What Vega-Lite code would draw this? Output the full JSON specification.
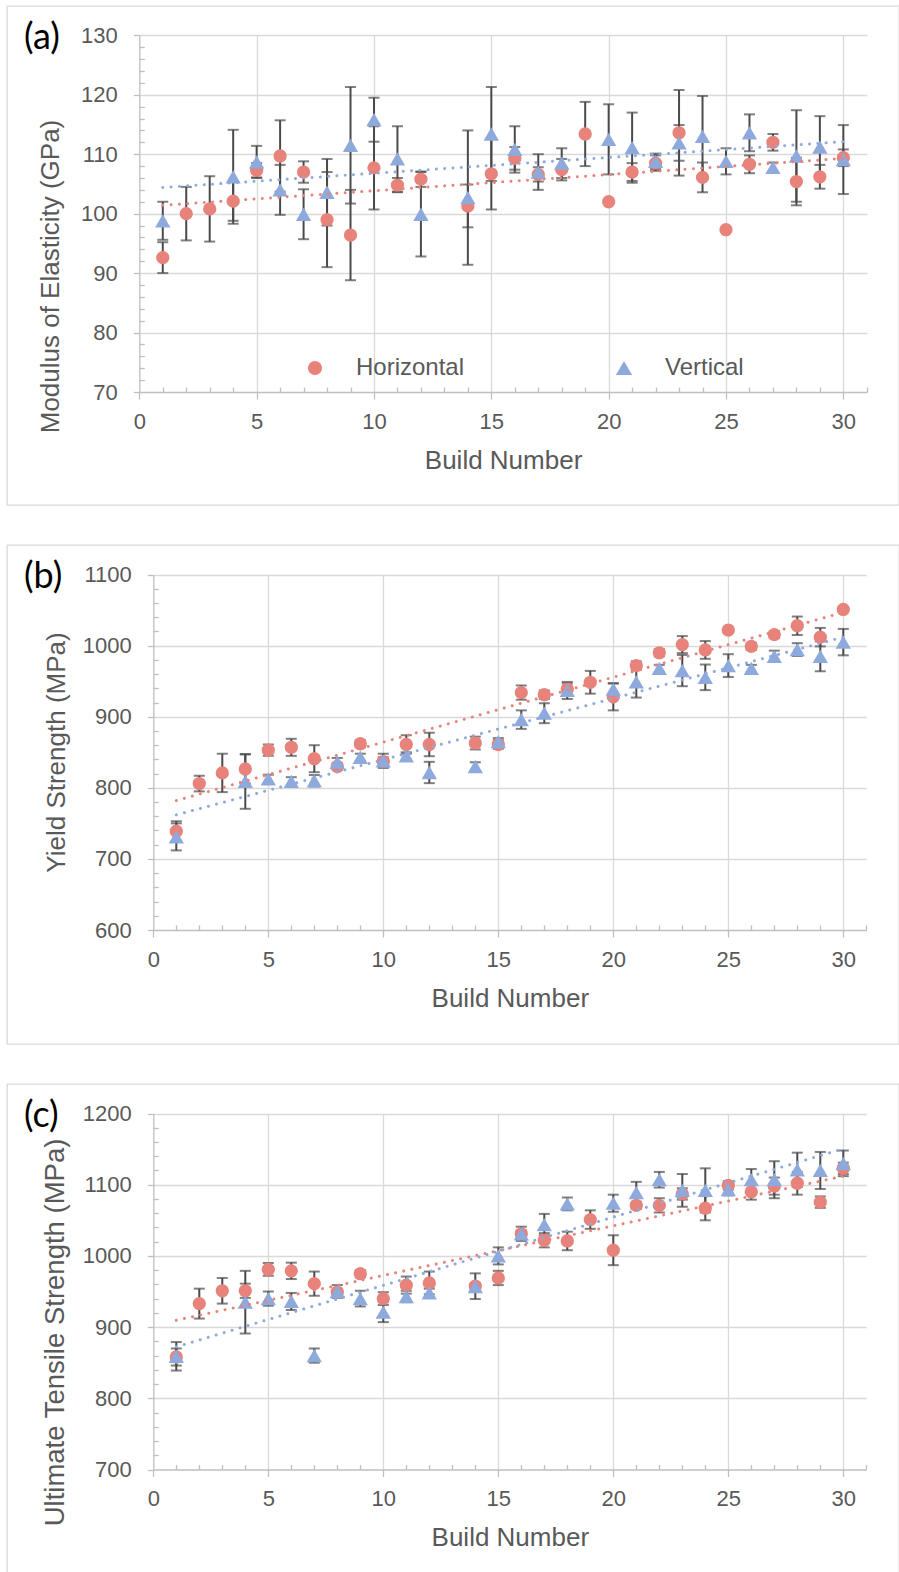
{
  "$schema": "https://vega.github.io/schema/vega-lite/v6.json",
  "background": "white",
  "padding": {"left": 6, "top": 5, "right": 0, "bottom": 0},
  "spacing": 38,
  "config": {
    "view": {"stroke": "#d9d9d9", "strokeWidth": 1.3},
    "font": "Liberation Sans",
    "axis": {
      "gridColor": "#d9d9d9", "gridWidth": 1.3,
      "domainColor": "#bfbfbf", "domainWidth": 1.3,
      "tickColor": "#bfbfbf", "tickWidth": 1.3, "tickCount": 100,
      "labelFont": "Liberation Sans", "labelFontSize": 22, "labelColor": "#595959",
      "labelOverlap": false, "labelFlush": false,
      "titleFont": "Liberation Sans", "titleFontSize": 26, "titleColor": "#595959", "titleFontWeight": "normal"
    },
    "legend": {
      "orient": "none", "legendX": 296, "legendY": 350, "direction": "horizontal",
      "symbolSize": 200, "labelFontSize": 24, "labelColor": "#595959", "labelFont": "Liberation Sans",
      "labelOffset": 29, "columnPadding": 147, "padding": 0, "symbolStrokeWidth": 0, "symbolOpacity": 1
    },
    "title": {"font": "Lato", "fontSize": 36, "fontWeight": "normal", "color": "#000000", "anchor": "start", "frame": "group", "baseline": "top", "offset": -32, "dx": 17, "dy": 19}
  },
  "datasets": {
    "pa": [
      {"build":1,"value":92.6,"err":2.6,"series":"Horizontal"},{"build":2,"value":100.0,"err":4.5,"series":"Horizontal"},{"build":3,"value":100.8,"err":5.5,"series":"Horizontal"},{"build":4,"value":102.1,"err":3.3,"series":"Horizontal"},{"build":5,"value":107.3,"err":1.2,"series":"Horizontal"},{"build":6,"value":109.7,"err":6.0,"series":"Horizontal"},{"build":7,"value":107.0,"err":1.8,"series":"Horizontal"},{"build":8,"value":99.0,"err":8.0,"series":"Horizontal"},{"build":9,"value":96.4,"err":7.6,"series":"Horizontal"},{"build":10,"value":107.7,"err":7.0,"series":"Horizontal"},{"build":11,"value":104.8,"err":1.2,"series":"Horizontal"},{"build":12,"value":105.8,"err":1.3,"series":"Horizontal"},{"build":14,"value":101.3,"err":3.6,"series":"Horizontal"},{"build":15,"value":106.7,"err":6.0,"series":"Horizontal"},{"build":16,"value":109.3,"err":1.9,"series":"Horizontal"},{"build":17,"value":106.6,"err":1.2,"series":"Horizontal"},{"build":18,"value":107.4,"err":1.8,"series":"Horizontal"},{"build":19,"value":113.4,"err":5.4,"series":"Horizontal"},{"build":20,"value":102.0,"err":0,"series":"Horizontal"},{"build":21,"value":107.0,"err":1.5,"series":"Horizontal"},{"build":22,"value":108.5,"err":1.3,"series":"Horizontal"},{"build":23,"value":113.6,"err":7.2,"series":"Horizontal"},{"build":24,"value":106.1,"err":2.5,"series":"Horizontal"},{"build":25,"value":97.3,"err":0,"series":"Horizontal"},{"build":26,"value":108.3,"err":1.5,"series":"Horizontal"},{"build":27,"value":112.0,"err":1.4,"series":"Horizontal"},{"build":28,"value":105.4,"err":4.0,"series":"Horizontal"},{"build":29,"value":106.2,"err":2.0,"series":"Horizontal"},{"build":30,"value":109.4,"err":1.4,"series":"Horizontal"},
      {"build":1,"value":98.8,"err":3.2,"series":"Vertical"},{"build":4,"value":106.2,"err":7.9,"series":"Vertical"},{"build":5,"value":108.7,"err":2.7,"series":"Vertical"},{"build":6,"value":104.0,"err":4.2,"series":"Vertical"},{"build":7,"value":99.9,"err":4.2,"series":"Vertical"},{"build":8,"value":103.6,"err":5.6,"series":"Vertical"},{"build":9,"value":111.5,"err":9.8,"series":"Vertical"},{"build":10,"value":115.8,"err":3.7,"series":"Vertical"},{"build":11,"value":109.2,"err":5.5,"series":"Vertical"},{"build":12,"value":99.9,"err":7.1,"series":"Vertical"},{"build":14,"value":102.7,"err":11.3,"series":"Vertical"},{"build":15,"value":113.4,"err":7.9,"series":"Vertical"},{"build":16,"value":110.8,"err":3.9,"series":"Vertical"},{"build":17,"value":107.0,"err":3.0,"series":"Vertical"},{"build":18,"value":108.5,"err":2.5,"series":"Vertical"},{"build":20,"value":112.5,"err":5.9,"series":"Vertical"},{"build":21,"value":111.1,"err":5.9,"series":"Vertical"},{"build":22,"value":108.8,"err":1.3,"series":"Vertical"},{"build":23,"value":111.9,"err":3.0,"series":"Vertical"},{"build":24,"value":113.0,"err":6.8,"series":"Vertical"},{"build":25,"value":108.8,"err":2.2,"series":"Vertical"},{"build":26,"value":113.6,"err":3.1,"series":"Vertical"},{"build":27,"value":107.8,"err":0.8,"series":"Vertical"},{"build":28,"value":109.7,"err":7.7,"series":"Vertical"},{"build":29,"value":111.2,"err":5.2,"series":"Vertical"},{"build":30,"value":109.1,"err":5.8,"series":"Vertical"}
    ],
    "ta": [
      {"build":1,"value":101.4,"series":"Horizontal"},{"build":30,"value":109.3,"series":"Horizontal"},
      {"build":1,"value":104.4,"series":"Vertical"},{"build":30,"value":112.1,"series":"Vertical"}
    ],
    "pb": [
      {"build":1,"value":739,"err":14,"series":"Horizontal"},{"build":2,"value":806,"err":11,"series":"Horizontal"},{"build":3,"value":821,"err":27,"series":"Horizontal"},{"build":4,"value":826.5,"err":20.5,"series":"Horizontal"},{"build":5,"value":853,"err":8,"series":"Horizontal"},{"build":6,"value":857,"err":12,"series":"Horizontal"},{"build":7,"value":841,"err":19,"series":"Horizontal"},{"build":8,"value":830,"err":5,"series":"Horizontal"},{"build":9,"value":862,"err":5,"series":"Horizontal"},{"build":10,"value":837,"err":6,"series":"Horizontal"},{"build":11,"value":861,"err":13,"series":"Horizontal"},{"build":12,"value":861,"err":16.5,"series":"Horizontal"},{"build":14,"value":863,"err":9,"series":"Horizontal"},{"build":15,"value":861,"err":6,"series":"Horizontal"},{"build":16,"value":934,"err":10,"series":"Horizontal"},{"build":17,"value":931,"err":6,"series":"Horizontal"},{"build":18,"value":939,"err":8,"series":"Horizontal"},{"build":19,"value":948.5,"err":16,"series":"Horizontal"},{"build":20,"value":928,"err":19,"series":"Horizontal"},{"build":21,"value":972,"err":6,"series":"Horizontal"},{"build":22,"value":990,"err":5,"series":"Horizontal"},{"build":23,"value":1001.5,"err":12,"series":"Horizontal"},{"build":24,"value":994,"err":12.5,"series":"Horizontal"},{"build":25,"value":1022,"err":0,"series":"Horizontal"},{"build":26,"value":999,"err":5,"series":"Horizontal"},{"build":27,"value":1015.6,"err":5,"series":"Horizontal"},{"build":28,"value":1028,"err":13,"series":"Horizontal"},{"build":29,"value":1012,"err":13,"series":"Horizontal"},{"build":30,"value":1051,"err":0,"series":"Horizontal"},
      {"build":1,"value":731,"err":19,"series":"Vertical"},{"build":4,"value":809,"err":38.5,"series":"Vertical"},{"build":5,"value":812.5,"err":6,"series":"Vertical"},{"build":6,"value":809,"err":6,"series":"Vertical"},{"build":7,"value":810,"err":8,"series":"Vertical"},{"build":8,"value":836,"err":6,"series":"Vertical"},{"build":9,"value":843,"err":5,"series":"Vertical"},{"build":10,"value":838,"err":10,"series":"Vertical"},{"build":11,"value":845,"err":5,"series":"Vertical"},{"build":12,"value":821.6,"err":15,"series":"Vertical"},{"build":14,"value":830,"err":6,"series":"Vertical"},{"build":15,"value":865,"err":5,"series":"Vertical"},{"build":16,"value":896,"err":13,"series":"Vertical"},{"build":17,"value":905,"err":14,"series":"Vertical"},{"build":18,"value":937,"err":12,"series":"Vertical"},{"build":20,"value":939,"err":8,"series":"Vertical"},{"build":21,"value":949,"err":22,"series":"Vertical"},{"build":22,"value":968,"err":5,"series":"Vertical"},{"build":23,"value":965,"err":22,"series":"Vertical"},{"build":24,"value":955.5,"err":18,"series":"Vertical"},{"build":25,"value":972,"err":16,"series":"Vertical"},{"build":26,"value":968,"err":5,"series":"Vertical"},{"build":27,"value":985,"err":8,"series":"Vertical"},{"build":28,"value":994.5,"err":9,"series":"Vertical"},{"build":29,"value":985,"err":21,"series":"Vertical"},{"build":30,"value":1005,"err":18.6,"series":"Vertical"}
    ],
    "tb": [
      {"build":1,"value":782,"series":"Horizontal"},{"build":30,"value":1047,"series":"Horizontal"},
      {"build":1,"value":762,"series":"Vertical"},{"build":30,"value":1012,"series":"Vertical"}
    ],
    "pc": [
      {"build":1,"value":858,"err":12,"series":"Horizontal"},{"build":2,"value":933,"err":21,"series":"Horizontal"},{"build":3,"value":951,"err":18,"series":"Horizontal"},{"build":4,"value":951,"err":10,"series":"Horizontal"},{"build":5,"value":981,"err":9,"series":"Horizontal"},{"build":6,"value":979,"err":11.5,"series":"Horizontal"},{"build":7,"value":961,"err":17,"series":"Horizontal"},{"build":8,"value":949,"err":5,"series":"Horizontal"},{"build":9,"value":975,"err":5,"series":"Horizontal"},{"build":10,"value":940,"err":9,"series":"Horizontal"},{"build":11,"value":959,"err":12,"series":"Horizontal"},{"build":12,"value":962,"err":16,"series":"Horizontal"},{"build":14,"value":957.5,"err":18,"series":"Horizontal"},{"build":15,"value":969,"err":10,"series":"Horizontal"},{"build":16,"value":1031,"err":5,"series":"Horizontal"},{"build":17,"value":1022,"err":10,"series":"Horizontal"},{"build":18,"value":1021,"err":13,"series":"Horizontal"},{"build":19,"value":1051,"err":13,"series":"Horizontal"},{"build":20,"value":1008,"err":21,"series":"Horizontal"},{"build":21,"value":1071,"err":5,"series":"Horizontal"},{"build":22,"value":1071,"err":10,"series":"Horizontal"},{"build":23,"value":1087,"err":8,"series":"Horizontal"},{"build":24,"value":1067,"err":17,"series":"Horizontal"},{"build":25,"value":1099,"err":6,"series":"Horizontal"},{"build":26,"value":1090,"err":11,"series":"Horizontal"},{"build":27,"value":1098,"err":12,"series":"Horizontal"},{"build":28,"value":1102,"err":16,"series":"Horizontal"},{"build":29,"value":1075.5,"err":8,"series":"Horizontal"},{"build":30,"value":1123,"err":8,"series":"Horizontal"},
      {"build":1,"value":859,"err":20,"series":"Vertical"},{"build":4,"value":935,"err":44,"series":"Vertical"},{"build":5,"value":940,"err":10,"series":"Vertical"},{"build":6,"value":936,"err":12,"series":"Vertical"},{"build":7,"value":860,"err":10,"series":"Vertical"},{"build":8,"value":950,"err":9,"series":"Vertical"},{"build":9,"value":940,"err":11,"series":"Vertical"},{"build":10,"value":921,"err":14,"series":"Vertical"},{"build":11,"value":943,"err":8,"series":"Vertical"},{"build":12,"value":948,"err":6,"series":"Vertical"},{"build":14,"value":957,"err":5,"series":"Vertical"},{"build":15,"value":1000,"err":12,"series":"Vertical"},{"build":16,"value":1031,"err":10,"series":"Vertical"},{"build":17,"value":1044,"err":15,"series":"Vertical"},{"build":18,"value":1073,"err":9,"series":"Vertical"},{"build":20,"value":1074,"err":12,"series":"Vertical"},{"build":21,"value":1089,"err":15,"series":"Vertical"},{"build":22,"value":1107,"err":11,"series":"Vertical"},{"build":23,"value":1092,"err":23,"series":"Vertical"},{"build":24,"value":1092,"err":31,"series":"Vertical"},{"build":25,"value":1093,"err":8,"series":"Vertical"},{"build":26,"value":1107,"err":15,"series":"Vertical"},{"build":27,"value":1107,"err":26,"series":"Vertical"},{"build":28,"value":1121,"err":24,"series":"Vertical"},{"build":29,"value":1120,"err":26,"series":"Vertical"},{"build":30,"value":1130,"err":18,"series":"Vertical"}
    ],
    "tc": [
      {"build":1,"value":909.7,"series":"Horizontal"},{"build":30,"value":1112,"series":"Horizontal"},
      {"build":1,"value":872.3,"series":"Vertical"},{"build":30,"value":1150.4,"series":"Vertical"}
    ]
  },
  "vconcat": [
    {
      "width": 892, "height": 499,
      "title": {"text": "(a)"},
      "layer": [
        {
          "data": {"name": "pa"},
          "transform": [{"filter": "datum.err > 0"}],
          "mark": {"type": "errorbar", "color": "#4a4a4a", "ticks": {"size": 11, "thickness": 2}, "rule": {"strokeWidth": 2}},
          "encoding": {
            "x": {"field": "build", "type": "quantitative",
              "scale": {"domain": [0, 31], "range": [132.3, 859.8], "nice": false, "zero": false},
              "axis": {"title": "Build Number", "orient": "top", "values": [0,1,2,3,4,5,6,7,8,9,10,11,12,13,14,15,16,17,18,19,20,21,22,23,24,25,26,27,28,29,30,31],
                "offset": -386, "grid": true, "labelOverlap": false, "tickCount": 100, "format": "d",
                "gridOpacity": {"condition": {"test": "datum.value % 5 === 0 && datum.value > 0 && datum.value < 31", "value": 1}, "value": 0},
                "tickSize": {"condition": {"test": "datum.value % 5 === 0", "value": -7}, "value": 5},
                "labelExpr": "datum.value % 5 === 0 ? datum.label : ''",
                "labelPadding": -12, "labelBaseline": "top", "titleY": 55, "titleBaseline": "top"}},
            "y": {"field": "value", "type": "quantitative",
              "scale": {"domain": [70, 130], "range": [386, 29.3], "nice": false, "zero": false},
              "axis": {"title": "Modulus of Elasticity (GPa)", "values": [70,72,74,76,78,80,82,84,86,88,90,92,94,96,98,100,102,104,106,108,110,112,114,116,118,120,122,124,126,128,130],
                "offset": -132.3, "grid": true, "labelOverlap": false, "format": "d", "tickCount": 100,
                "gridOpacity": {"condition": {"test": "datum.value % 10 === 0 && datum.value > 70", "value": 1}, "value": 0},
                "tickSize": {"condition": {"test": "datum.value % 10 === 0", "value": 6}, "value": -5},
                "labelExpr": "datum.value % 10 === 0 ? datum.label : ''",
                "labelPadding": 16, "titleX": -89, "titleY": 270, "titleBaseline": "middle", "titleAlign": "center", "titleAngle": 270}},
            "yError": {"field": "err"}
          }
        },
        {
          "data": {"name": "pa"},
          "mark": {"type": "point", "filled": true, "size": 177, "opacity": 1},
          "encoding": {
            "x": {"field": "build", "type": "quantitative"},
            "y": {"field": "value", "type": "quantitative"},
            "color": {"field": "series", "type": "nominal", "scale": {"domain": ["Horizontal", "Vertical"], "range": ["#E8837B", "#8EA9DB"]}, "legend": {"title": null}},
            "shape": {"field": "series", "type": "nominal", "scale": {"domain": ["Horizontal", "Vertical"], "range": ["circle", "M0,-1L1.15,1L-1.15,1Z"]}, "legend": {"title": null}}
          }
        },
        {
          "data": {"name": "ta"},
          "transform": [{"filter": "datum.series === 'Horizontal'"}],
          "mark": {"type": "line", "color": "#E8837B", "strokeWidth": 3, "strokeDash": [0.01, 8.3], "strokeCap": "round"},
          "encoding": {"x": {"field": "build", "type": "quantitative"}, "y": {"field": "value", "type": "quantitative"}}
        },
        {
          "data": {"name": "ta"},
          "transform": [{"filter": "datum.series === 'Vertical'"}],
          "mark": {"type": "line", "color": "#8EA9DB", "strokeWidth": 3, "strokeDash": [0.01, 8.3], "strokeCap": "round"},
          "encoding": {"x": {"field": "build", "type": "quantitative"}, "y": {"field": "value", "type": "quantitative"}}
        }
      ]
    },
    {
      "width": 892, "height": 499,
      "title": {"text": "(b)"},
      "layer": [
        {
          "data": {"name": "pb"},
          "transform": [{"filter": "datum.err > 0"}],
          "mark": {"type": "errorbar", "color": "#4a4a4a", "ticks": {"size": 11, "thickness": 2}, "rule": {"strokeWidth": 2}},
          "encoding": {
            "x": {"field": "build", "type": "quantitative",
              "scale": {"domain": [0, 31], "range": [146.3, 859.3], "nice": false, "zero": false},
              "axis": {"title": "Build Number", "orient": "top", "values": [0,1,2,3,4,5,6,7,8,9,10,11,12,13,14,15,16,17,18,19,20,21,22,23,24,25,26,27,28,29,30,31],
                "offset": -385, "grid": true, "labelOverlap": false, "tickCount": 100, "format": "d",
                "gridOpacity": {"condition": {"test": "datum.value % 5 === 0 && datum.value > 0 && datum.value < 31", "value": 1}, "value": 0},
                "tickSize": {"condition": {"test": "datum.value % 5 === 0", "value": -7}, "value": 5},
                "labelExpr": "datum.value % 5 === 0 ? datum.label : ''",
                "labelPadding": -12, "labelBaseline": "top", "titleY": 55, "titleBaseline": "top"}},
            "y": {"field": "value", "type": "quantitative",
              "scale": {"domain": [600, 1100], "range": [385, 29.6], "nice": false, "zero": false},
              "axis": {"title": "Yield Strength (MPa)", "values": [600,620,640,660,680,700,720,740,760,780,800,820,840,860,880,900,920,940,960,980,1000,1020,1040,1060,1080,1100],
                "offset": -146.3, "grid": true, "labelOverlap": false, "format": "d", "tickCount": 100,
                "gridOpacity": {"condition": {"test": "datum.value % 100 === 0 && datum.value > 600", "value": 1}, "value": 0},
                "tickSize": {"condition": {"test": "datum.value % 100 === 0", "value": 6}, "value": -5},
                "labelExpr": "datum.value % 100 === 0 ? datum.label : ''",
                "labelPadding": 16, "titleX": -96.8, "titleY": 207, "titleBaseline": "middle", "titleAlign": "center", "titleAngle": 270}},
            "yError": {"field": "err"}
          }
        },
        {
          "data": {"name": "pb"},
          "mark": {"type": "point", "filled": true, "size": 177, "opacity": 1},
          "encoding": {
            "x": {"field": "build", "type": "quantitative"},
            "y": {"field": "value", "type": "quantitative"},
            "color": {"field": "series", "type": "nominal", "scale": {"domain": ["Horizontal", "Vertical"], "range": ["#E8837B", "#8EA9DB"]}, "legend": {"title": null}},
            "shape": {"field": "series", "type": "nominal", "scale": {"domain": ["Horizontal", "Vertical"], "range": ["circle", "M0,-1L1.15,1L-1.15,1Z"]}, "legend": {"title": null}}
          }
        },
        {
          "data": {"name": "tb"},
          "transform": [{"filter": "datum.series === 'Horizontal'"}],
          "mark": {"type": "line", "color": "#E8837B", "strokeWidth": 3, "strokeDash": [0.01, 8.3], "strokeCap": "round"},
          "encoding": {"x": {"field": "build", "type": "quantitative"}, "y": {"field": "value", "type": "quantitative"}}
        },
        {
          "data": {"name": "tb"},
          "transform": [{"filter": "datum.series === 'Vertical'"}],
          "mark": {"type": "line", "color": "#8EA9DB", "strokeWidth": 3, "strokeDash": [0.01, 8.3], "strokeCap": "round"},
          "encoding": {"x": {"field": "build", "type": "quantitative"}, "y": {"field": "value", "type": "quantitative"}}
        }
      ]
    },
    {
      "width": 892, "height": 492,
      "title": {"text": "(c)"},
      "layer": [
        {
          "data": {"name": "pc"},
          "transform": [{"filter": "datum.err > 0"}],
          "mark": {"type": "errorbar", "color": "#4a4a4a", "ticks": {"size": 11, "thickness": 2}, "rule": {"strokeWidth": 2}},
          "encoding": {
            "x": {"field": "build", "type": "quantitative",
              "scale": {"domain": [0, 31], "range": [146.3, 859.3], "nice": false, "zero": false},
              "axis": {"title": "Build Number", "orient": "top", "values": [0,1,2,3,4,5,6,7,8,9,10,11,12,13,14,15,16,17,18,19,20,21,22,23,24,25,26,27,28,29,30,31],
                "offset": -385.5, "grid": true, "labelOverlap": false, "tickCount": 100, "format": "d",
                "gridOpacity": {"condition": {"test": "datum.value % 5 === 0 && datum.value > 0 && datum.value < 31", "value": 1}, "value": 0},
                "tickSize": {"condition": {"test": "datum.value % 5 === 0", "value": -7}, "value": 5},
                "labelExpr": "datum.value % 5 === 0 ? datum.label : ''",
                "labelPadding": -12, "labelBaseline": "top", "titleY": 55, "titleBaseline": "top"}},
            "y": {"field": "value", "type": "quantitative",
              "scale": {"domain": [700, 1200], "range": [385.5, 29.5], "nice": false, "zero": false},
              "axis": {"title": "Ultimate Tensile Strength (MPa)", "values": [700,720,740,760,780,800,820,840,860,880,900,920,940,960,980,1000,1020,1040,1060,1080,1100,1120,1140,1160,1180,1200],
                "offset": -146.3, "grid": true, "labelOverlap": false, "format": "d", "tickCount": 100,
                "gridOpacity": {"condition": {"test": "datum.value % 100 === 0 && datum.value > 700", "value": 1}, "value": 0},
                "tickSize": {"condition": {"test": "datum.value % 100 === 0", "value": 6}, "value": -5},
                "labelExpr": "datum.value % 100 === 0 ? datum.label : ''",
                "labelPadding": 16, "titleX": -98, "titleY": 248, "titleFontSize": 27.5, "titleBaseline": "middle", "titleAlign": "center", "titleAngle": 270}},
            "yError": {"field": "err"}
          }
        },
        {
          "data": {"name": "pc"},
          "mark": {"type": "point", "filled": true, "size": 177, "opacity": 1},
          "encoding": {
            "x": {"field": "build", "type": "quantitative"},
            "y": {"field": "value", "type": "quantitative"},
            "color": {"field": "series", "type": "nominal", "scale": {"domain": ["Horizontal", "Vertical"], "range": ["#E8837B", "#8EA9DB"]}, "legend": {"title": null}},
            "shape": {"field": "series", "type": "nominal", "scale": {"domain": ["Horizontal", "Vertical"], "range": ["circle", "M0,-1L1.15,1L-1.15,1Z"]}, "legend": {"title": null}}
          }
        },
        {
          "data": {"name": "tc"},
          "transform": [{"filter": "datum.series === 'Horizontal'"}],
          "mark": {"type": "line", "color": "#E8837B", "strokeWidth": 3, "strokeDash": [0.01, 8.3], "strokeCap": "round"},
          "encoding": {"x": {"field": "build", "type": "quantitative"}, "y": {"field": "value", "type": "quantitative"}}
        },
        {
          "data": {"name": "tc"},
          "transform": [{"filter": "datum.series === 'Vertical'"}],
          "mark": {"type": "line", "color": "#8EA9DB", "strokeWidth": 3, "strokeDash": [0.01, 8.3], "strokeCap": "round"},
          "encoding": {"x": {"field": "build", "type": "quantitative"}, "y": {"field": "value", "type": "quantitative"}}
        }
      ]
    }
  ]
}
